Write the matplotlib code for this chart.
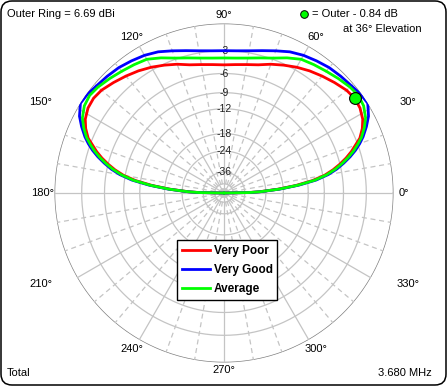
import numpy as np
import matplotlib
matplotlib.use('Agg')
import matplotlib.pyplot as plt
from matplotlib.patches import FancyBboxPatch
from matplotlib.lines import Line2D
from matplotlib.transforms import IdentityTransform

plt.rcParams['font.family'] = ['Liberation Sans', 'DejaVu Sans']

# ---- data (elevation angle in degrees, gain in dB relative to outer ring) ----
angles = [0, 1, 2, 4, 6, 8, 10, 12, 14, 16, 18, 20, 22, 25, 28, 32, 36, 40, 45, 50,
          55, 60, 65, 70, 75, 80, 85, 90,
          95, 100, 105, 110, 115, 120, 125, 130, 135, 140, 144, 148, 152, 155, 158,
          160, 162, 164, 166, 168, 170, 172, 174, 176, 178, 179, 180]

very_poor = [-99, -33.5, -27.0, -19.7, -14.6, -11.0, -8.7, -7.2, -6.0, -4.95, -4.05, -3.3,
             -2.5, -1.8, -1.3, -0.95, -0.84, -1.0, -1.4, -1.8, -2.2, -2.65, -3.15, -3.65,
             -4.2, -4.5, -4.7, -4.8,
             -4.7, -4.5, -4.2, -3.65, -3.15, -2.65, -2.2, -1.8, -1.4, -1.0, -0.86, -0.95,
             -1.3, -1.8, -2.5, -3.3, -4.05, -4.95, -6.0, -7.2, -8.7, -11.0, -14.6, -19.7,
             -27.0, -33.5, -99]

very_good = [-99, -32.6, -26.3, -19.0, -13.9, -10.3, -8.1, -6.6, -5.45, -4.4, -3.5, -2.75,
             -2.1, -1.3, -0.6, 0.0, -0.1, -0.3, -0.45, -0.6, -0.85, -1.1, -1.45, -1.95,
             -2.4, -2.75, -2.95, -3.0,
             -2.95, -2.75, -2.4, -1.95, -1.45, -1.1, -0.85, -0.6, -0.45, -0.3, -0.1, -0.02,
             -0.6, -1.3, -2.1, -2.75, -3.5, -4.4, -5.45, -6.6, -8.1, -10.3, -13.9, -19.0,
             -26.3, -32.6, -99]

average = [-99, -33.0, -26.6, -19.3, -14.2, -10.6, -8.4, -6.9, -5.7, -4.65, -3.75, -3.0,
           -2.3, -1.55, -0.95, -0.5, -0.35, -0.5, -0.8, -1.1, -1.35, -1.6, -2.2, -2.85,
           -3.3, -3.65, -3.85, -3.9,
           -3.85, -3.65, -3.3, -2.85, -2.2, -1.6, -1.35, -1.1, -0.8, -0.5, -0.35, -0.5,
           -0.95, -1.55, -2.3, -3.0, -3.75, -4.65, -5.7, -6.9, -8.4, -10.6, -14.2, -19.3,
           -26.6, -33.0, -99]

series_names = ['Very Poor', 'Very Good', 'Average']
ring_db = [-3, -6, -9, -12, -18, -24, -36]
inner_ring_db = -50
marker_angle = 36
marker_db = -0.84
outer_ring_dbi = 6.69
frequency = '3.680 MHz'
angle_labels = ['0°', '30°', '60°', '90°', '120°', '150°', '180°', '210°', '240°',
                '270°', '300°', '330°']


def arrl(db):
    return 0.89 ** (-np.asarray(db, dtype=float) / 2.0)


W, H = 447, 386
fig = plt.figure(figsize=(W / 100, H / 100), dpi=100)
fig.patch.set_facecolor('white')

# rounded border
border = FancyBboxPatch((1.0, 1.0), W - 2.0, H - 2.0,
                        boxstyle='round,pad=0,rounding_size=11',
                        transform=IdentityTransform(), fill=False,
                        ec='black', lw=1.1)
fig.add_artist(border)

cx, cy, R = 224, 193, 169.5
ax = fig.add_axes([(cx - R) / W, (H - cy - R) / H, 2 * R / W, 2 * R / H],
                  projection='polar')
ax.set_ylim(0, 1)
ax.grid(False)
ax.set_xticks([])
ax.set_yticks([])
ax.spines['polar'].set_visible(False)
ax.patch.set_alpha(0)

tfull = np.linspace(0, 2 * np.pi, 721)
grid_c = '#c4c4c4'
for db in ring_db + [inner_ring_db]:
    ax.plot(tfull, np.full_like(tfull, float(arrl(db))), color=grid_c, lw=0.9, zorder=1)
ax.plot(tfull, np.ones_like(tfull), color='#808080', lw=1.0, zorder=1)

for a in range(0, 360, 10):
    th = np.radians(a)
    if a % 30 == 0:
        ax.plot([th, th], [0, 1], color=grid_c, lw=0.9, zorder=1)
    else:
        ax.plot([th, th], [0, 1], color=grid_c, lw=0.9, ls=(0, (4, 3)), zorder=1)

for db in ring_db:
    ax.text(np.pi / 2, float(arrl(db)), str(db), ha='center', va='center',
            fontsize=7.5, color='#202020', zorder=2)

th_data = np.radians(angles)
colors = ['#ff0000', '#0000ff', '#00ff00']
handles = []
for vals, c, name in zip([very_poor, very_good, average], colors, series_names):
    ln, = ax.plot(th_data, arrl(vals), color=c, lw=2.0, label=name, zorder=3,
                  solid_joinstyle='miter')
    handles.append(ln)

ax.plot([np.radians(marker_angle)], [float(arrl(marker_db))], 'o', mfc='#00ff00',
        mec='black', ms=8.5, mew=0.8, zorder=4)

# angle labels (pixel positions)
label_pos = [(404, 193), (408, 102), (316, 37), (224, 15), (132, 37), (41, 102),
             (43, 193), (41, 284), (132, 349), (224, 370), (316, 349), (408, 284)]
for txt, (px, py) in zip(angle_labels, label_pos):
    fig.text(px / W, 1 - py / H, txt, ha='center', va='center', fontsize=8)

fig.text(7 / W, 1 - 14 / H, f'Outer Ring = {outer_ring_dbi:.2f} dBi', ha='left',
         va='center', fontsize=8)
fig.text(7 / W, 1 - 373 / H, 'Total', ha='left', va='center', fontsize=8)
fig.text(432 / W, 1 - 373 / H, frequency, ha='right', va='center', fontsize=8)

fig.add_artist(Line2D([304 / W], [1 - 14 / H], marker='o', mfc='#00ff00', mec='black',
                      ms=5.5, mew=0.7, transform=fig.transFigure))
fig.text(312 / W, 1 - 14 / H, f'= Outer - {abs(marker_db):.2f} dB', ha='left',
         va='center', fontsize=8)
fig.text(343 / W, 1 - 29 / H, f'at {marker_angle}° Elevation', ha='left',
         va='center', fontsize=8)

leg = fig.legend(handles, series_names, loc='upper left',
                 bbox_to_anchor=(177 / W, 1 - 240 / H),
                 prop={'weight': 'bold', 'size': 8.5}, frameon=True, fancybox=False,
                 framealpha=1, edgecolor='black', handlelength=2.4,
                 borderpad=0.4, labelspacing=0.62, handletextpad=0.3,
                 borderaxespad=0)
leg.get_frame().set_linewidth(1.0)

fig.savefig('out.png', dpi=100, facecolor='white')
